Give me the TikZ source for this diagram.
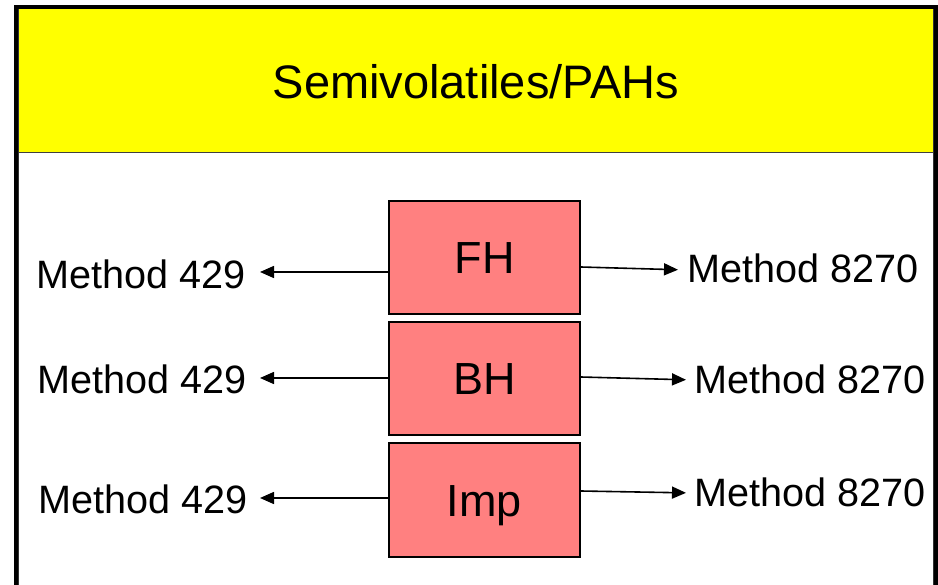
\documentclass[tikz,border=0pt]{standalone}
\usepackage{fontspec}
\setmainfont{Liberation Sans}
\usetikzlibrary{arrows.meta}
\definecolor{hdr}{RGB}{255,255,0}
\definecolor{salmon}{RGB}{255,128,128}
\tikzset{
  sampbox/.style={draw=black, line width=1.5pt, fill=salmon, minimum width=191pt, minimum height=113pt, inner sep=0pt, text height=32pt, text depth=0pt, font=\fontsize{45}{54}\selectfont},
  mlabel/.style={inner sep=0pt, font=\fontsize{39.6}{47}\selectfont},
  arr/.style={line width=1.6pt, -{Triangle[length=14pt,width=12pt]}},
}
\begin{document}
\begin{tikzpicture}[x=1pt,y=-1pt]
\useasboundingbox (0,0) rectangle (938,585);
% header cell
\fill[hdr] (18,9) rectangle (933.5,153);
\draw[line width=1pt, black!75] (18,153) -- (933.5,153);
\draw[line width=1pt, black!80] (18,9) rectangle (933.5,700);
% outer thick frame
\draw[line width=4.5pt] (16.2,7) rectangle (936.3,700);
\node[inner sep=0pt, font=\fontsize{47}{56}\selectfont] (title) at (476,82) {Semivolatiles/PAHs};
% sample boxes
\node[sampbox] (fh) at (484.5,257.5) {FH};
\node[sampbox] (bh) at (484.5,378.5) {BH};
\node[sampbox, minimum height=114pt] (imp) at (484.5,500) {Imp};
% left labels
\node[mlabel, anchor=east] (l1) at (246,274) {Method 429};
\node[mlabel, anchor=east] (l2) at (247,379) {Method 429};
\node[mlabel, anchor=east] (l3) at (248,499) {Method 429};
% right labels
\node[mlabel, anchor=west] (r1) at (687,268) {Method 8270};
\node[mlabel, anchor=west] (r2) at (694,379) {Method 8270};
\node[mlabel, anchor=west] (r3) at (694,492) {Method 8270};
% arrows
\draw[arr, shorten >=14pt] ([yshift=2pt]fh.west |- l1.east) -- ([yshift=2pt]l1.east);
\draw[arr, shorten >=13pt] ([yshift=1pt]bh.west |- l2.east) -- ([yshift=1pt]l2.east);
\draw[arr, shorten >=12pt] ([yshift=1pt]imp.west |- l3.east) -- ([yshift=1pt]l3.east);
\draw[arr, shorten >=9pt] ([yshift=1pt]fh.east |- r1.west) -- ([yshift=-2pt]r1.west);
\draw[arr, shorten >=8pt] ([yshift=2pt]bh.east |- r2.west) -- ([yshift=-1pt]r2.west);
\draw[arr, shorten >=8pt] ([yshift=1pt]imp.east |- r3.west) -- ([yshift=-1pt]r3.west);
\end{tikzpicture}
\end{document}
